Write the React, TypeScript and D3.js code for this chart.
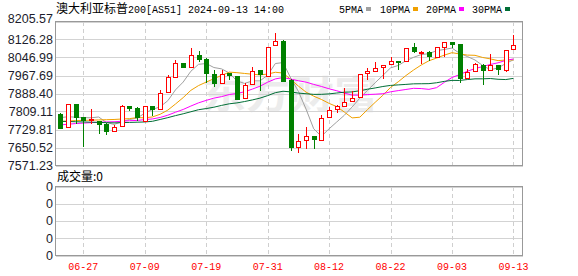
import React from 'react';
import * as d3 from 'd3';

const dates = ['06-24','06-25','06-26','06-27','06-28','07-01','07-02','07-03','07-04','07-05','07-08','07-09','07-10','07-11','07-12','07-15','07-16','07-17','07-18','07-19','07-22','07-23','07-24','07-25','07-26','07-29','07-30','07-31','08-01','08-02','08-05','08-06','08-07','08-08','08-09','08-12','08-13','08-14','08-15','08-16','08-19','08-20','08-21','08-22','08-23','08-26','08-27','08-28','08-29','08-30','09-02','09-03','09-04','09-05','09-06','09-09','09-10','09-11','09-12','09-13'];
const openV = [7797.6,7738.9,7841.7,7783,7771,7765.3,7753.5,7721.2,7743.3,7832.8,7824,7765.3,7832.8,7820.9,7894.6,7962.1,8021.2,8003.5,8059.1,8038.8,7974,7935.6,7977,7963.9,7868.1,7929.9,7991.6,7963.9,8100.6,8118,7950,7650.6,7684.2,7701.8,7685.6,7783,7820.9,7831.5,7853.6,7871.2,7977,7985.9,8003.5,8018.1,8032.7,8030,8091.8,8069.7,8071,8050.3,8094.4,8115.1,8106.3,7956.4,7985.9,8015,7993,8015,7991.6,8083];
const highV = [7800.6,7843.9,7843,7785.6,7820.9,7766.7,7759,7747.7,7835.9,7833,7827,7833,7834,7903.4,7968.3,8035.7,8022,8088.7,8074.1,8044.6,7993,7993,7978,7964,7935.6,8003.5,7992,8095,8154.8,8124,7952,7710.7,7741.5,7702,7794.5,7829.7,7836,7912.2,7900.3,7976,8000.5,8026.9,8013,8047.6,8033,8090,8112,8074,8076.8,8095,8116,8116,8107,7997.4,8022.5,8018,8062.2,8016,8081,8147.3];
const lowV = [7732.7,7735.8,7753.5,7653.3,7753.5,7709.3,7706,7721,7743,7812,7765.3,7763,7787.4,7819.6,7894,7960.7,8003,8003,8026.9,7932.9,7915.3,7935,7948.8,7865,7868,7929,7897.7,7963,8100,7940,7635.6,7626.8,7644.5,7644.5,7685,7783,7802,7831,7853,7870,7948.8,7985,7953.2,8018,7993,8030,8068,8018.1,8030,8050,8047.6,8088.7,7932.9,7956,7985,7924.1,7993,7968.3,7982.8,8083];
const closeV = [7735.8,7841.7,7783,7771,7775.5,7753.5,7721.2,7738.9,7831.5,7824,7783,7831.5,7820.9,7888.9,7959.4,8021.2,8003.5,8059.1,8041.5,7977.1,7932.9,7974,7968.3,7865,7924.1,7988.5,7974,8094.4,8120.9,7945,7650.6,7679.8,7701.8,7687.3,7779.9,7815.2,7831.5,7850.5,7868.1,7974,7985.9,8000.5,8012.4,8032.7,8028.3,8088.7,8076.8,8072.4,8053.4,8094.4,8115.1,8107.6,7956.4,7982.8,8018.1,7993,8015,7996,8079.9,8100.6];

const ma5 = [7782,7786,7784,7782,7781.4,7784.9,7760.8,7752.0,7764.1,7773.8,7779.7,7801.8,7818.2,7829.7,7856.7,7904.4,7938.8,7986.4,8016.9,8020.5,8002.8,7996.9,7978.8,7943.5,7932.9,7944.0,7944.0,7969.2,8020.4,8024.6,7957.0,7898.1,7819.6,7732.9,7699.9,7732.8,7763.1,7792.9,7829.0,7867.9,7902.0,7935.8,7968.2,8001.1,8012.0,8032.5,8047.8,8059.8,8063.9,8077.1,8082.4,8088.6,8065.4,8051.3,8036.0,8011.6,7993.1,8001.0,8020.4,8036.9];
const ma10 = [7765,7767,7769,7770,7771,7772,7773,7774,7776,7777.6,7782.3,7781.3,7785.1,7796.9,7815.3,7842.1,7870.3,7902.3,7923.3,7938.6,7953.6,7967.9,7982.6,7980.2,7976.7,7973.4,7970.5,7974.0,7981.9,7978.7,7950.5,7921.1,7894.4,7876.6,7862.2,7844.9,7830.6,7806.3,7781.0,7783.9,7817.4,7849.5,7880.5,7915.1,7939.9,7967.3,7991.8,8014.0,8032.5,8044.6,8057.5,8068.2,8062.6,8057.6,8056.6,8047.0,8040.8,8033.2,8035.8,8036.5];
const ma20 = [7750,7753,7756,7758,7760,7762,7763,7764,7766,7768.7,7769.8,7773.4,7776.4,7782.8,7792.8,7805.9,7818.1,7833.1,7847.2,7858.1,7868.0,7874.6,7883.8,7888.5,7896.0,7907.7,7920.4,7938.1,7952.6,7958.7,7952.0,7944.5,7938.5,7928.4,7919.4,7909.1,7900.5,7890.1,7881.4,7881.3,7883.9,7885.3,7887.5,7895.9,7901.1,7906.1,7911.2,7910.1,7906.7,7914.2,7937.4,7958.8,7971.6,7986.3,7998.2,8007.1,8016.3,8023.6,8034.2,8040.5];
const ma30 = [7766,7765,7764,7763,7762,7761,7760,7759,7760,7761,7762,7763,7766,7774,7782,7791,7799,7808,7817,7822,7828,7836,7843,7847,7853,7860,7868,7879,7892,7898.3,7895.5,7890.1,7887.4,7884.6,7884.7,7886.8,7890.5,7894.2,7895.4,7900.4,7907.2,7912.8,7919.2,7924.0,7926.3,7928.5,7931.0,7931.4,7931.8,7935.7,7941.8,7946.2,7945.8,7949.8,7952.9,7953.1,7954.4,7951.1,7949.8,7955.0];

const yTickLabels = ['8205.57','8126.28','8046.99','7967.69','7888.40','7809.11','7729.81','7650.52','7571.23'];
const xTickLabels = ['06-27','07-09','07-19','07-31','08-12','08-22','09-03','09-13'];
const volTickLabels = ['0','0','0','0','0'];
const legendNames = ['5PMA','10PMA','20PMA','30PMA'];
const titleCn = '澳大利亚标普';
const titleRest = '200[AS51] 2024-09-13 14:00';
const volumeTitle = '成交量:0';
const watermark = '东方财富';

const maColors = ['#a0a0a0', '#f0a000', '#ff00ff', '#006e36'];
const UP = '#ff0000';
const DOWN = '#008000';

export default function App() {
  const W = 578, H = 276;
  const left = 55.5, right = 522.5, top = 21.5, bottom = 165.5;
  const vTop = 186.5, vBottom = 255.5;

  const x = d3.scalePoint<string>().domain(dates).range([60.3, 513.4]);
  const yNums = yTickLabels.map(Number);
  const y = d3.scaleLinear().domain([d3.min(yNums)!, d3.max(yNums)!]).range([bottom, top]);
  const vy = d3.scaleLinear().domain([0, volTickLabels.length - 1]).range([vBottom, vTop]);

  const mas = [ma5, ma10, ma20, ma30];
  const lineGen = d3.line<number>().x((_, i) => x(dates[i])!).y(d => y(d));

  const mono = "'Liberation Mono', 'DejaVu Sans Mono', monospace";
  const sans = "'Liberation Sans', Arial, sans-serif";
  const cjk = "'Noto Sans CJK SC', sans-serif";

  return (
    <svg width={W} height={H} style={{ position: 'absolute', left: 0, top: 0, background: '#fff' }}>
      <rect x={0} y={0} width={W} height={H} fill="#fff" />
      {/* watermark */}
      <text x={290} y={108} textAnchor="middle" fontFamily={cjk} fontWeight="bold" fontSize={38}
        fill="#ececec" textLength={176} lengthAdjust="spacingAndGlyphs">{watermark}</text>

      {/* horizontal grid main */}
      {yNums.map((v, i) => (
        <line key={'hg' + i} x1={left} x2={right} y1={Math.round(y(v)) + 0.5} y2={Math.round(y(v)) + 0.5}
          stroke="#d3d3d3" strokeWidth={1} shapeRendering="crispEdges" />
      ))}
      {/* horizontal grid volume */}
      {volTickLabels.map((_, i) => (
        <line key={'vg' + i} x1={left} x2={right} y1={Math.round(vy(i)) + 0.5} y2={Math.round(vy(i)) + 0.5}
          stroke="#d3d3d3" strokeWidth={1} shapeRendering="crispEdges" />
      ))}
      {/* vertical dashed grid */}
      {xTickLabels.map((d, i) => {
        const xx = Math.round(x(d)!) + 0.5;
        return (
          <g key={'vd' + i}>
            <line x1={xx} x2={xx} y1={top} y2={bottom} stroke="#cfcfcf" strokeDasharray="4,3" shapeRendering="crispEdges" />
            <line x1={xx} x2={xx} y1={vTop} y2={vBottom} stroke="#cfcfcf" strokeDasharray="4,3" shapeRendering="crispEdges" />
          </g>
        );
      })}

      {/* MA lines */}
      {mas.map((m, k) => (
        <path key={'ma' + k} d={lineGen(m) || ''} fill="none" stroke={maColors[k]} strokeWidth={1} />
      ))}

      {/* candles */}
      {dates.map((d, i) => {
        const cx = Math.round(x(d)!) + 0.5;
        const o = openV[i], c = closeV[i], h = highV[i], l = lowV[i];
        const up = c >= o;
        const yTop = Math.round(y(Math.max(o, c)));
        const yBot = Math.round(y(Math.min(o, c)));
        const bh = Math.max(1, yBot - yTop);
        const col = up ? UP : DOWN;
        return (
          <g key={'c' + i} shapeRendering="crispEdges">
            <line x1={cx} x2={cx} y1={y(h)} y2={y(l)} stroke={col} strokeWidth={1} />
            {up ? (
              <rect x={cx - 2} y={yTop + 0.5} width={4} height={bh} fill="#fff" stroke={col} strokeWidth={1} />
            ) : (
              <rect x={cx - 2.5} y={yTop} width={5} height={bh + 1} fill={col} />
            )}
          </g>
        );
      })}

      {/* borders */}
      <rect x={left} y={top} width={right - left} height={bottom - top} fill="none" stroke="#999" strokeWidth={1} shapeRendering="crispEdges" />
      <rect x={left} y={vTop} width={right - left} height={vBottom - vTop} fill="none" stroke="#999" strokeWidth={1} shapeRendering="crispEdges" />

      {/* y labels */}
      {yTickLabels.map((t, i) => (
        <text key={'yl' + i} x={53} y={i === 0 ? 18.5 : y(yNums[i])} dy="0.35em" textAnchor="end"
          fontFamily={sans} fontSize={12.5} fill="#1c1c2c">{t}</text>
      ))}
      {volTickLabels.map((t, i) => (
        <text key={'vl' + i} x={53} y={vy(i)} dy="0.35em" textAnchor="end"
          fontFamily={sans} fontSize={12.5} fill="#1c1c2c">{t}</text>
      ))}

      {/* x labels */}
      {xTickLabels.map((t, i) => (
        <text key={'xl' + i} x={x(t)} y={266} dy="0.35em" textAnchor="middle"
          fontFamily={mono} fontSize={10} fill="#ff0000">{t}</text>
      ))}

      {/* title */}
      <text x={56} y={13} fontSize={12} fill="#000">
        <tspan fontFamily={cjk}>{titleCn}</tspan>
        <tspan fontFamily={mono} fontSize={10}>{titleRest}</tspan>
      </text>

      {/* legend */}
      {legendNames.map((n, i) => {
        const starts = [339, 380, 426, 472];
        const sx = starts[i];
        const tw = n.length * 6;
        return (
          <g key={'lg' + i}>
            <text x={sx} y={12.5} fontFamily={mono} fontSize={10} fill="#000">{n}</text>
            <rect x={sx + tw + 3} y={7} width={5} height={4} fill={maColors[i]} />
          </g>
        );
      })}

      {/* volume title */}
      <text x={57} y={177} dy="0.35em" fontFamily={cjk} fontSize={12} fill="#000">{volumeTitle}</text>
    </svg>
  );
}
